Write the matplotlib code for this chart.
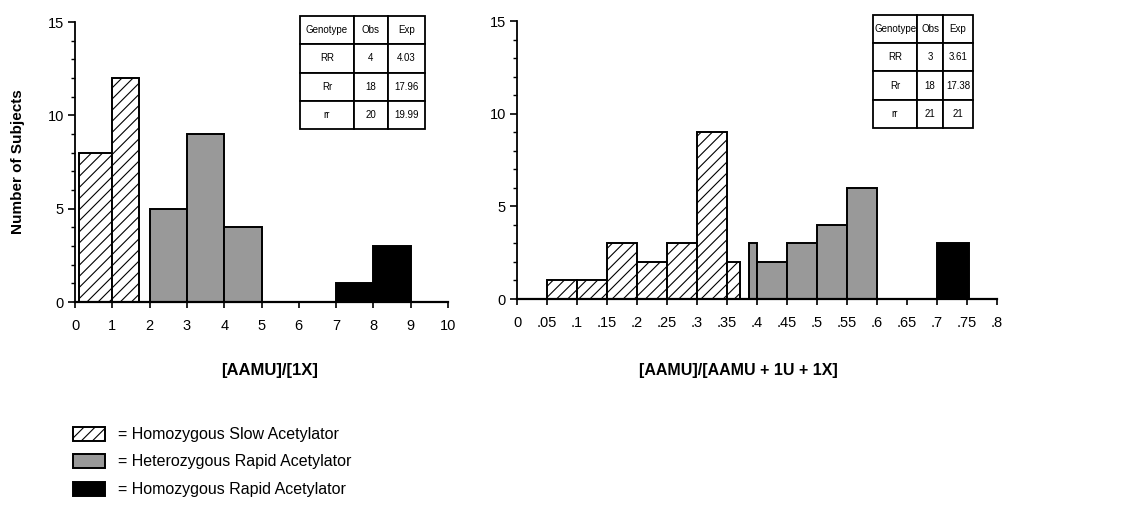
import matplotlib
matplotlib.use("Agg")
import matplotlib.pyplot as plt
import numpy as np
from matplotlib.patches import Rectangle
from matplotlib.ticker import MultipleLocator

plt.rcParams['font.family'] = ['Liberation Sans', 'DejaVu Sans']
plt.rcParams['hatch.linewidth'] = 0.8

# ---------------- data ----------------
left_slow_edges = [0.1, 1.0, 1.72]
left_slow_counts = [8, 12]
left_het_edges = [2, 3, 4, 5]
left_het_counts = [5, 9, 4]
left_rr_edges = [7, 8, 9]
left_rr_counts = [1, 3]

right_slow_edges = [0.05, 0.10, 0.15, 0.20, 0.25, 0.30, 0.35, 0.371]
right_slow_counts = [1, 1, 3, 2, 3, 9, 2]
right_het_edges = [0.386, 0.40, 0.45, 0.50, 0.55, 0.60]
right_het_counts = [3, 2, 3, 4, 6]
right_rr_edges = [0.70, 0.753]
right_rr_counts = [3]

left_xticks = list(range(0, 11))
left_xticklabels = [str(v) for v in left_xticks]
right_xticks = [0, .05, .1, .15, .2, .25, .3, .35, .4, .45, .5, .55, .6, .65, .7, .75, .8]
right_xticklabels = ['0', '.05', '.1', '.15', '.2', '.25', '.3', '.35', '.4', '.45',
                     '.5', '.55', '.6', '.65', '.7', '.75', '.8']
yticks = [0, 5, 10, 15]

table_header = ['Genotype', 'Obs', 'Exp']
left_table = [['RR', '4', '4.03'], ['Rr', '18', '17.96'], ['rr', '20', '19.99']]
right_table = [['RR', '3', '3.61'], ['Rr', '18', '17.38'], ['rr', '21', '21']]

legend_labels = ['= Homozygous Slow Acetylator',
                 '= Heterozygous Rapid Acetylator',
                 '= Homozygous Rapid Acetylator']

# ---------------- styles ----------------
W, H = 1133, 511
fig = plt.figure(figsize=(W / 100, H / 100), dpi=100)

slow_style = dict(facecolor='white', edgecolor='black', hatch='///', linewidth=1.4)
het_style = dict(facecolor='#999999', edgecolor='black', linewidth=1.4)
rr_style = dict(facecolor='black', edgecolor='black', linewidth=1.4)


def px_axes(x0, x1, ytop, ybot):
    return fig.add_axes([x0 / W, 1 - ybot / H, (x1 - x0) / W, (ybot - ytop) / H])


def draw_bars(ax, edges, counts, style):
    edges = np.asarray(edges)
    ax.bar(edges[:-1], counts, width=np.diff(edges), align='edge', zorder=2, **style)


def style_axes(ax, xlim, xticks, xticklabels):
    ax.set_xlim(*xlim)
    ax.set_ylim(0, 15)
    for s in ['top', 'right']:
        ax.spines[s].set_visible(False)
    ax.spines['left'].set_linewidth(1.3)
    ax.spines['bottom'].set_linewidth(1.6)
    ax.spines['bottom'].set_zorder(3)
    ax.set_yticks(yticks)
    ax.yaxis.set_minor_locator(MultipleLocator(1))
    ax.set_xticks(xticks)
    ax.set_xticklabels(xticklabels)
    ax.tick_params(axis='y', which='major', direction='out', length=5, width=1.2,
                   labelsize=10.5, pad=3)
    ax.tick_params(axis='y', which='minor', direction='out', length=3, width=1.0)
    ax.tick_params(axis='x', which='major', direction='out', length=4, width=1.2,
                   labelsize=10.5, pad=8)
    ax.patch.set_alpha(0)


def draw_table(ax, rows, bbox, colw):
    tb = ax.table(cellText=rows, colLabels=table_header, cellLoc='center',
                  bbox=bbox, colWidths=colw, zorder=5)
    tb.auto_set_font_size(False)
    tb.set_fontsize(7)
    for (r, c), cell in tb.get_celld().items():
        cell.set_linewidth(1.3)
        cell.set_edgecolor('black')
        cell.set_facecolor('white')
    return tb


# ---------------- left panel ----------------
axL = px_axes(75, 448, 22, 302)
draw_bars(axL, left_slow_edges, left_slow_counts, slow_style)
draw_bars(axL, left_het_edges, left_het_counts, het_style)
draw_bars(axL, left_rr_edges, left_rr_counts, rr_style)
style_axes(axL, (0, 10), left_xticks, left_xticklabels)
draw_table(axL, left_table, [0.603, 0.618, 0.335, 0.403], [0.432, 0.272, 0.296])

# ---------------- right panel ----------------
axR = px_axes(517, 997, 21, 299)
draw_bars(axR, right_slow_edges, right_slow_counts, slow_style)
draw_bars(axR, right_het_edges, right_het_counts, het_style)
draw_bars(axR, right_rr_edges, right_rr_counts, rr_style)
style_axes(axR, (0, 0.8), right_xticks, right_xticklabels)
draw_table(axR, right_table, [0.742, 0.615, 0.208, 0.407], [0.44, 0.26, 0.30])

# ---------------- labels ----------------
fig.text(18 / W, 1 - 162 / H, 'Number of Subjects', rotation=90, ha='center',
         va='center', fontsize=11, fontweight='bold')
fig.text(270 / W, 1 - 370 / H, '[AAMU]/[1X]', ha='center', va='center',
         fontsize=12, fontweight='bold')
fig.text(738 / W, 1 - 370 / H, '[AAMU]/[AAMU + 1U + 1X]', ha='center', va='center',
         fontsize=11.5, fontweight='bold')

# ---------------- legend ----------------
legend_styles = [slow_style, het_style, rr_style]
legend_y = [434, 461, 489]
for lab, st, yc in zip(legend_labels, legend_styles, legend_y):
    r = Rectangle((73 / W, 1 - (yc + 7) / H), 32 / W, 14 / H,
                  transform=fig.transFigure, **st)
    fig.add_artist(r)
    fig.text(118 / W, 1 - yc / H, lab, ha='left', va='center', fontsize=11.5)

fig.savefig('out.png', dpi=100)
